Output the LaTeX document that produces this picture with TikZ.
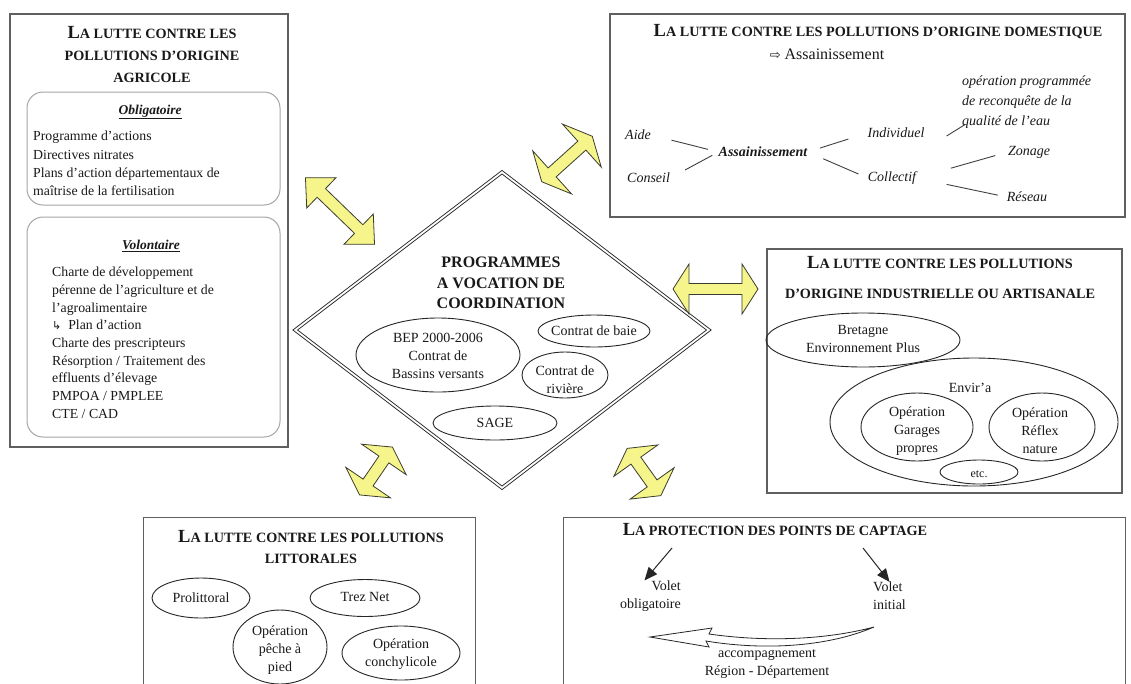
\documentclass[tikz,border=0pt]{standalone}
\usepackage{fontspec}
\setmainfont{Liberation Serif}
\newfontfamily\dejavusym{DejaVu Sans}
\usetikzlibrary{shapes.geometric,arrows.meta}
\definecolor{boxgray}{RGB}{95,95,95}
\definecolor{roundgray}{RGB}{165,165,165}
\definecolor{yfill}{RGB}{245,245,140}
\definecolor{yline}{RGB}{60,60,45}
\newcommand\fsz[2]{\fontsize{#1}{#2}\selectfont}
\newcommand\SCt[2]{{\fsz{18.5}{21}#1}{\fsz{14.2}{21}#2}}
% cx cy angle length headhalfwidth shafthalfwidth headlength
\newcommand\yelarrow[7]{%
  \pgfmathsetmacro\yaL{#4/2}\pgfmathsetmacro\yaB{#4/2-#7}%
  \begin{scope}[shift={(#1,#2)},rotate=#3]
  \draw[yarr] (-\yaL,0) -- (-\yaB,#5) -- (-\yaB,#6) -- (\yaB,#6) -- (\yaB,#5) -- (\yaL,0)
     -- (\yaB,-#5) -- (\yaB,-#6) -- (-\yaB,-#6) -- (-\yaB,-#5) -- cycle;
  \end{scope}}
\begin{document}
\begin{tikzpicture}[x=1pt,y=-1pt,
  outbox/.style={rectangle, draw=boxgray, line width=1.3pt, inner sep=0pt},
  rbox/.style={rectangle, draw=roundgray, line width=1pt, rounded corners=16pt, inner sep=0pt},
  ell/.style={ellipse, draw=black!85, line width=0.9pt, inner sep=0pt},
  txt/.style={inner sep=0pt, text=black!90, font=\fsz{14}{18}},
  ttl/.style={inner sep=0pt, text=black!90, align=center},
  itx/.style={inner sep=0pt, text=black!90, font=\itshape\fsz{14}{20}},
  tline/.style={draw=black!75, line width=0.9pt},
  blk/.style={draw=black!85, line width=1pt, -{Triangle[width=11pt,length=13pt]}},
  yarr/.style={draw=yline, fill=yfill, line width=0.8pt, line join=miter}]
\useasboundingbox (0,0) rectangle (1131,683);
\clip (0,0) rectangle (1131,683);
\fill[white] (0,0) rectangle (1131,683);

% ---------- agricultural box ----------
\node[outbox, minimum width=278pt, minimum height=433pt] (agri) at (149,230.5) {};
\node[ttl, font=\bfseries\fsz{14.2}{22}] (agrititle) at (152,55)
  {\SCt{L}{A LUTTE CONTRE LES}\\POLLUTIONS D'ORIGINE\\AGRICOLE};
\node[rbox, minimum width=253pt, minimum height=113pt] (oblig) at (153.5,148.5) {};
\node[txt, font=\bfseries\itshape\fsz{13.5}{18}] (obligt) at (150,112) {\underline{Obligatoire}};
\node[txt, font=\fsz{13.8}{18.3}, align=left, anchor=west] (obligl) at (33,163.5)
  {Programme d'actions\\Directives nitrates\\Plans d'action départementaux de\\maîtrise de la fertilisation};
\node[rbox, minimum width=253pt, minimum height=220pt] (volont) at (153.5,327) {};
\node[txt, font=\bfseries\itshape\fsz{13.5}{18}] (volontt) at (151,246) {\underline{Volontaire}};
\node[txt, font=\fsz{13.8}{17.7}, align=left, anchor=west] (volontl) at (52,342.8)
  {Charte de développement\\pérenne de l'agriculture et de\\l'agroalimentaire\\{\dejavusym\fsz{11}{17.7}↳}\ \ Plan d'action\\Charte des prescripteurs\\Résorption / Traitement des\\effluents d'élevage\\PMPOA / PMPLEE\\CTE / CAD};

% ---------- domestic box ----------
\node[outbox, minimum width=515pt, minimum height=203pt] (dom) at (867.5,115.5) {};
\node[ttl, font=\bfseries\fsz{14.2}{20}] (domtitle) at (878,32)
  {\SCt{L}{A LUTTE CONTRE LES POLLUTIONS D'ORIGINE DOMESTIQUE}};
\node[txt, font=\fsz{16}{20}] (domsub) at (827,54) {{\dejavusym\fsz{13}{20}⇨}\ Assainissement};
\node[itx, anchor=west] (aide) at (625,135) {Aide};
\node[itx, anchor=west] (conseil) at (627,178) {Conseil};
\node[itx, font=\bfseries\itshape\fsz{14}{20}] (assain) at (763,152) {Assainissement};
\node[itx] (indiv) at (896,133) {Individuel};
\node[itx] (collec) at (892,178) {Collectif};
\node[itx, anchor=west, align=left] (oper) at (962,102)
  {opération programmée\\de reconquête de la\\qualité de l'eau};
\node[itx] (zonage) at (1029,152) {Zonage};
\node[itx] (reseau) at (1027,197) {Réseau};
\draw[tline, shorten <=21pt, shorten >=11pt] (aide.east) -- (assain.west);
\draw[tline, shorten <=17pt, shorten >=7pt] (conseil.east) -- (assain.west);
\draw[tline, shorten <=13pt, shorten >=20pt] (assain.east) -- (indiv.west);
\draw[tline, shorten <=17pt, shorten >=10pt] (assain.east) -- (collec.west);
\draw[tline] ([shift={(22,3)}]indiv.east) -- ([shift={(3,-4)}]oper.south west);
\draw[tline, shorten <=36pt, shorten >=13pt] (collec.east) -- (zonage.west);
\draw[tline, shorten <=31pt, shorten >=9pt] (collec.east) -- (reseau.west);

% ---------- central diamond ----------
\node[diamond, draw=black!85, double, double distance=1.8pt, line width=0.9pt,
      minimum width=414pt, minimum height=316pt, inner sep=0pt] (prog) at (502,330) {};
\node[ttl, font=\bfseries\fsz{16}{20.5}] (progt) at (501,283) {PROGRAMMES\\A VOCATION DE\\COORDINATION};
\node[ell, minimum width=164pt, minimum height=74pt] (bep) at (438,355) {};
\node[txt, align=center] (beptxt) at (438,356) {BEP 2000-2006\\Contrat de\\Bassins versants};
\node[ell, minimum width=112pt, minimum height=32pt] (baie) at (594,331) {};
\node[txt] (baietxt) at (594,331) {Contrat de baie};
\node[ell, minimum width=86pt, minimum height=46pt] (riv) at (565,375) {};
\node[txt, align=center] (rivtxt) at (565,380) {Contrat de\\rivière};
\node[ell, minimum width=124pt, minimum height=34pt] (sage) at (495,423) {};
\node[txt] (sagetxt) at (495,423) {SAGE};

% ---------- industrial box ----------
\node[outbox, minimum width=355pt, minimum height=244pt] (ind) at (944.5,371) {};
\node[ttl, font=\bfseries\fsz{14.2}{30}] (indtitle) at (940,278)
  {\SCt{L}{A LUTTE CONTRE LES POLLUTIONS}\\D'ORIGINE INDUSTRIELLE OU ARTISANALE};
\node[ell, minimum width=194pt, minimum height=54pt] (bret) at (863,340) {};
\node[txt, align=center] (brettxt) at (863,339) {Bretagne\\Environnement Plus};
\node[ell, minimum width=288pt, minimum height=128pt] (envira) at (974,422) {};
\node[txt] (enviratxt) at (970,388) {Envir'a};
\node[ell, minimum width=112pt, minimum height=68pt] (gar) at (917,427) {};
\node[txt, align=center] (gartxt) at (917,431) {Opération\\Garages\\propres};
\node[ell, minimum width=106pt, minimum height=68pt] (refl) at (1042,427) {};
\node[txt, align=center] (refltxt) at (1040,431) {Opération\\Réflex\\nature};
\node[ell, minimum width=78pt, minimum height=24pt] (etc) at (979,472) {};
\node[txt, font=\fsz{12}{14}] (etctxt) at (979,474) {etc.};

% ---------- littoral box ----------
\node[outbox, minimum width=332pt, minimum height=200pt, anchor=north west] (litt) at (143,517) {};
\node[ttl, font=\bfseries\fsz{14.2}{21}] (litttitle) at (311,547.5)
  {\SCt{L}{A LUTTE CONTRE LES POLLUTIONS}\\LITTORALES};
\node[ell, minimum width=98pt, minimum height=40pt] (prol) at (201,598) {};
\node[txt] (proltxt) at (201,598) {Prolittoral};
\node[ell, minimum width=110pt, minimum height=37pt] (trez) at (365,598) {};
\node[txt] (treztxt) at (365,597) {Trez Net};
\node[ell, minimum width=94pt, minimum height=74pt] (peche) at (280,647) {};
\node[txt, align=center] (pechetxt) at (280,650) {Opération\\pêche à\\pied};
\node[ell, minimum width=118pt, minimum height=54pt] (conch) at (401,653) {};
\node[txt, align=center] (conchtxt) at (401,654) {Opération\\conchylicole};

% ---------- captage box ----------
\node[outbox, minimum width=562pt, minimum height=200pt, anchor=north west] (capt) at (563,517) {};
\node[ttl, font=\bfseries\fsz{14.2}{21}] (capttitle) at (775,530)
  {\SCt{L}{A PROTECTION DES POINTS DE CAPTAGE}};
\node[txt, align=right, anchor=east] (voletob) at (681,596) {Volet\\obligatoire};
\node[txt, align=left, anchor=west] (voletin) at (873,596) {Volet\\initial};
\coordinate (ob0) at (672,548);
\coordinate (in0) at (863,548);
\draw[blk] (ob0) -- ([xshift=-6pt]voletob.north);
\draw[blk] (in0) -- (voletin.north);
\draw[draw=black!85, line width=0.8pt, fill=white, line join=miter]
  (874,627) .. controls (825,648) and (760,650) .. (706,641) -- (709,647) -- (650,637)
  -- (712,628) -- (709,634) .. controls (765,642) and (825,640) .. cycle;
\node[txt, align=center] (accomp) at (767,664) {accompagnement\\Région - Département};

% ---------- yellow double arrows ----------
\yelarrow{340}{211}{-44}{96}{21}{6}{22}
\yelarrow{567}{159}{42}{68}{29}{6}{14}
\yelarrow{715.5}{289}{0}{85}{25}{5.5}{16}
\yelarrow{376}{471}{55.6}{58}{27}{6}{15}
\yelarrow{644}{472}{-54.5}{58}{27}{6}{15}
\end{tikzpicture}
\end{document}
